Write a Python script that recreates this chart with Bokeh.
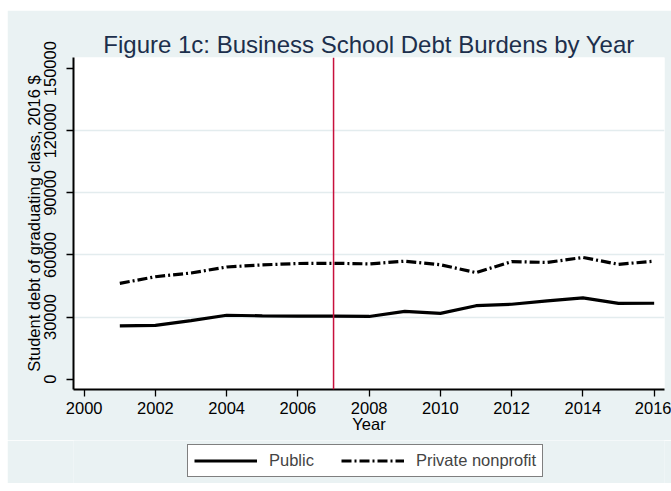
from bokeh.plotting import figure
from bokeh.layouts import column
from bokeh.models import (Span, Legend, LegendItem, FixedTicker, Title,
                          ColumnDataSource, BasicTickFormatter)
from bokeh.embed import file_html
from bokeh.resources import INLINE

years = [2001, 2002, 2003, 2004, 2005, 2006, 2007, 2008,
         2009, 2010, 2011, 2012, 2013, 2014, 2015, 2016]
public = [25750, 26000, 28300, 30900, 30600, 30500, 30500, 30300,
          32800, 31800, 35500, 36200, 37800, 39300, 36600, 36700]
private_nonprofit = [46300, 49500, 51300, 54200, 55200, 55900, 56000, 55700,
                     57000, 55300, 51500, 56800, 56400, 58800, 55500, 57000]
series_labels = ["Public", "Private nonprofit"]
x_ticks = [2000, 2002, 2004, 2006, 2008, 2010, 2012, 2014, 2016]
y_ticks = [0, 30000, 60000, 90000, 120000, 150000]
y_grid = [30000, 60000, 90000, 120000]
event_year = 2007

FONT = "Liberation Sans"
BG = "#EAF2F3"
DASH = "10 3 2 3"

p = figure(width=664, height=430, output_backend="svg", toolbar_location=None,
           x_range=(1999.70, 2016.29), y_range=(-4976, 155400),
           min_border_left=66, min_border_right=7, min_border_top=47, min_border_bottom=51)
p.margin = (10, 0, 0, 7)
p.border_fill_color = BG
p.background_fill_color = "white"
p.outline_line_color = None

t = Title(text="Figure 1c: Business School Debt Burdens by Year", align="center",
          text_font=FONT, text_font_size="24px", text_font_style="normal",
          text_color="#1c2f4c", standoff=0)
p.add_layout(t, "above")

src = ColumnDataSource(dict(year=years, pub=public, priv=private_nonprofit))
p.line("year", "pub", source=src, line_color="black", line_width=3.2)
p.line("year", "priv", source=src, line_color="black", line_width=3.2, line_dash=DASH)

p.add_layout(Span(location=event_year, dimension="height",
                  line_color="#c8103c", line_width=1.5))

for ax in (p.xaxis[0], p.yaxis[0]):
    ax.axis_line_color = "black"
    ax.axis_line_width = 2
    ax.major_tick_line_color = "black"
    ax.major_tick_line_width = 1.3
    ax.major_tick_out = 7
    ax.major_tick_in = 0
    ax.minor_tick_line_color = None
    ax.major_label_text_font = FONT
    ax.major_label_text_font_size = "16.5px"
    ax.major_label_text_color = "black"
    ax.axis_label_text_font = FONT
    ax.axis_label_text_font_size = "16.5px"
    ax.axis_label_text_font_style = "normal"
    ax.axis_label_text_color = "black"
    ax.formatter = BasicTickFormatter(use_scientific=False)

p.xaxis.ticker = FixedTicker(ticks=x_ticks)
p.yaxis.ticker = FixedTicker(ticks=y_ticks)
p.xaxis.axis_label = "Year"
p.yaxis.axis_label = "Student debt of graduating class, 2016 $"
p.xaxis.major_label_standoff = 5
p.xaxis.axis_label_standoff = -2
p.yaxis.major_label_orientation = "vertical"
p.yaxis.major_label_standoff = 10
p.yaxis.axis_label_standoff = -1

p.xgrid.visible = False
p.ygrid.ticker = FixedTicker(ticks=y_grid)
p.ygrid.grid_line_color = "#E3ECEE"
p.ygrid.grid_line_width = 1.5

# legend strip below the chart (same background); its key lines reuse the
# series data but lie outside this strip's ranges, so only the legend shows
p2 = figure(width=664, height=43, output_backend="svg", toolbar_location=None,
            x_range=(0, 1), y_range=(0, 1),
            x_axis_location=None, y_axis_location=None,
            min_border_left=0, min_border_right=0, min_border_top=0, min_border_bottom=0)
p2.margin = (0, 0, 0, 7)
p2.border_fill_color = BG
p2.background_fill_color = BG
p2.outline_line_color = None
p2.grid.visible = False
k1 = p2.line("year", "pub", source=src, line_color="black", line_width=3.2)
k2 = p2.line("year", "priv", source=src, line_color="black", line_width=3.2, line_dash=DASH)

legend = Legend(items=[LegendItem(label=series_labels[0], renderers=[k1]),
                       LegendItem(label=series_labels[1], renderers=[k2])],
                orientation="horizontal", location=(114, 6),
                glyph_width=63, glyph_height=19, label_height=19,
                label_standoff=12, spacing=27, padding=6, margin=0,
                label_text_font=FONT, label_text_font_size="16.5px",
                border_line_color="black", border_line_width=1,
                background_fill_color="white", background_fill_alpha=1)
p2.add_layout(legend, "center")

layout = column(p, p2, spacing=0)
open("out.html", "w").write(file_html(layout, INLINE))
